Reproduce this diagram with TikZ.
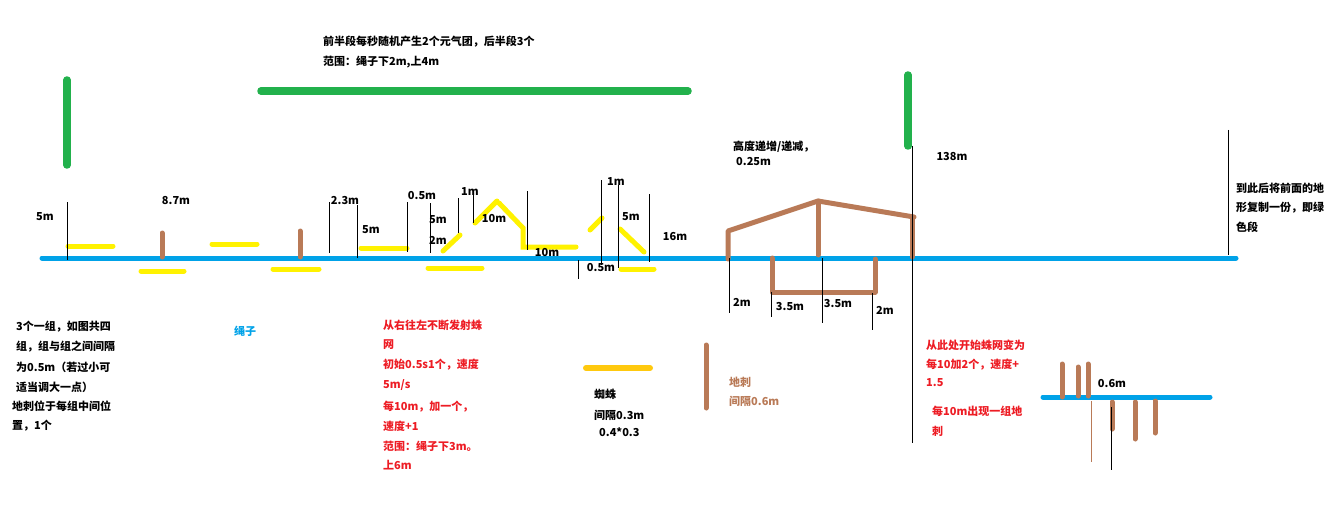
\documentclass[tikz,border=0pt]{standalone}
\usepackage{fontspec}
\setmainfont{Noto Sans CJK SC}
\definecolor{ropec}{HTML}{00A2E8}
\definecolor{yelc}{HTML}{FFF200}
\definecolor{yelb}{HTML}{FFC90E}
\definecolor{brnc}{HTML}{B97A57}
\definecolor{grnc}{HTML}{22B14C}
\definecolor{redc}{HTML}{ED1C24}
\begin{document}
\begin{tikzpicture}[x=1pt,y=-1pt,
  rope/.style={draw=ropec,line width=5pt,line cap=round},
  yel/.style={draw=yelc,line width=5pt,line cap=round},
  brn/.style={draw=brnc,line width=5pt,line cap=round,line join=round},
  grn/.style={draw=grnc,line width=7.5pt,line cap=round},
  dim/.style={draw=black,line width=1pt},
  lbl/.style={font=\bfseries\fontsize{11}{13}\selectfont,inner sep=0pt,text=black},
  lw/.style={lbl,anchor=west}]
\useasboundingbox (0,0) rectangle (1341,516);
% green
\draw[grn] (67,80) -- (67,165);
\draw[grn] (261,91) -- (688,91);
\draw[grn] (908,75) -- (908,146);
% rope
\draw[rope] (42,258) -- (1236,258);
\draw[rope] (1043,397) -- (1210,397);
% yellow
\draw[yel] (68,246) -- (113,246);
\draw[yel] (141,271) -- (184,271);
\draw[yel] (212,244) -- (257,244);
\draw[yel] (273,269) -- (319,269);
\draw[yel] (361,248) -- (407,248);
\draw[yel] (428,268) -- (482,268);
\draw[yel] (443,251) -- (460,235);
\draw[yel] (475,223) -- (497,201);
\draw[yel] (499,203) -- (523,228) -- (523,247) -- (576,247);
\draw[yel] (590,230) -- (602,218);
\draw[yel] (620,229) -- (644,252);
\draw[yel] (621,269) -- (654,269);
\draw[draw=yelb,line width=6pt,line cap=round] (586,368) -- (650,368);
% brown
\draw[brn] (162,233) -- (162,257);
\draw[brn] (300,231) -- (300,257);
\draw[brn] (728,259) -- (728,231) -- (818,201) -- (914,217);
\draw[brn] (818,201) -- (818,255);
\draw[brn] (912,217) -- (912,257);
\draw[brn] (772,258) -- (772,292) -- (875,292) -- (875,259);
\draw[brn] (706,345) -- (706,408);
\draw[brn] (1062,364) -- (1062,397);
\draw[brn] (1078,367) -- (1078,396);
\draw[brn] (1088,364) -- (1088,396);
\draw[brn] (1112,402) -- (1112,429);
\draw[brn] (1135,402) -- (1135,439);
\draw[brn] (1155,401) -- (1155,433);
\draw[draw=brnc,line width=1pt] (1091,401) -- (1091,462);
% black dimension lines
\draw[dim] (67,202) -- (67,260);
\draw[dim] (329,202) -- (329,253);
\draw[dim] (357,205) -- (357,258);
\draw[dim] (407,202) -- (407,252);
\draw[dim] (430,203) -- (430,253);
\draw[dim] (458,198) -- (458,233);
\draw[dim] (473,193) -- (473,223);
\draw[dim] (527,191) -- (527,250);
\draw[dim] (578,260) -- (578,279);
\draw[dim] (601,180) -- (601,265);
\draw[dim] (618,185) -- (618,268);
\draw[dim] (649,194) -- (649,262);
\draw[dim] (729,258) -- (729,313);
\draw[dim] (771,292) -- (771,317);
\draw[dim] (822,258) -- (822,323);
\draw[dim] (872,293) -- (872,330);
\draw[dim] (912,146) -- (912,443);
\draw[dim] (1228,130) -- (1228,255);
\draw[dim] (1111,407) -- (1111,470);
% labels
\node[lbl] (a1) at (45,217) {5m};
\node[lbl] (a2) at (176,201) {8.7m};
\node[lbl] (a3) at (345,201) {2.3m};
\node[lbl] (a4) at (371,230) {5m};
\node[lbl] (a5) at (422,196) {0.5m};
\node[lbl] (a6) at (438,220) {5m};
\node[lbl] (a7) at (438,240) {2m};
\node[lbl] (a8) at (470,192) {1m};
\node[lbl] (a9) at (494,219) {10m};
\node[lbl] (a10) at (547,253) {10m};
\node[lbl] (a11) at (616,182) {1m};
\node[lbl] (a12) at (631,217) {5m};
\node[lbl] (a13) at (675,237) {16m};
\node[lbl] (a14) at (601,268) {0.5m};
\node[lw] (a15) at (733,147) {高度递增/递减，};
\node[lw] (a16) at (736,162) {0.25m};
\node[lbl] (a17) at (742,302) {2m};
\node[lbl] (a18) at (790,307) {3.5m};
\node[lbl] (a19) at (838,304) {3.5m};
\node[lbl] (a20) at (885,310) {2m};
\node[lbl] (a21) at (952,157) {138m};
\node[lbl] (a22) at (1112,384) {0.6m};
\node[lw] (b1) at (1236,188) {到此后将前面的地};
\node[lw] (b2) at (1236,208) {形复制一份，即绿};
\node[lw] (b3) at (1236,227) {色段};
\node[lw] (c1) at (323,42) {前半段每秒随机产生2个元气团，后半段3个};
\node[lw] (c2) at (323,62) {范围：绳子下2m,上4m};
\node[lw] (d1) at (16,327) {3个一组，如图共四};
\node[lw] (d2) at (16,347) {组，组与组之间间隔};
\node[lw] (d3) at (16,367) {为0.5m（若过小可};
\node[lw] (d4) at (16,387) {适当调大一点）};
\node[lw] (d5) at (12,406) {地刺位于每组中间位};
\node[lw] (d6) at (12,426) {置，1个};
\node[lbl,text=ropec] (e1) at (245,331) {绳子};
\node[lw,text=redc] (f1) at (383,325) {从右往左不断发射蛛};
\node[lw,text=redc] (f2) at (383,345) {网};
\node[lw,text=redc] (f3) at (383,365) {初始0.5s1个，速度};
\node[lw,text=redc] (f4) at (383,385) {5m/s};
\node[lw,text=redc] (f5) at (383,407) {每10m，加一个，};
\node[lw,text=redc] (f6) at (383,426) {速度+1};
\node[lw,text=redc] (f7) at (383,446) {范围：绳子下3m。};
\node[lw,text=redc] (f8) at (383,465) {上6m};
\node[lw] (g1) at (594,394) {蜘蛛};
\node[lw] (g2) at (594,415) {间隔0.3m};
\node[lw] (g3) at (599,432) {0.4*0.3};
\node[lw,text=brnc] (h1) at (729,382) {地刺};
\node[lw,text=brnc] (h2) at (729,401) {间隔0.6m};
\node[lw,text=redc] (i1) at (926,345) {从此处开始蛛网变为};
\node[lw,text=redc] (i2) at (926,365) {每10加2个，速度+};
\node[lw,text=redc] (i3) at (926,383) {1.5};
\node[lw,text=redc] (i4) at (932,411) {每10m出现一组地};
\node[lw,text=redc] (i5) at (932,431) {刺};
\end{tikzpicture}
\end{document}
